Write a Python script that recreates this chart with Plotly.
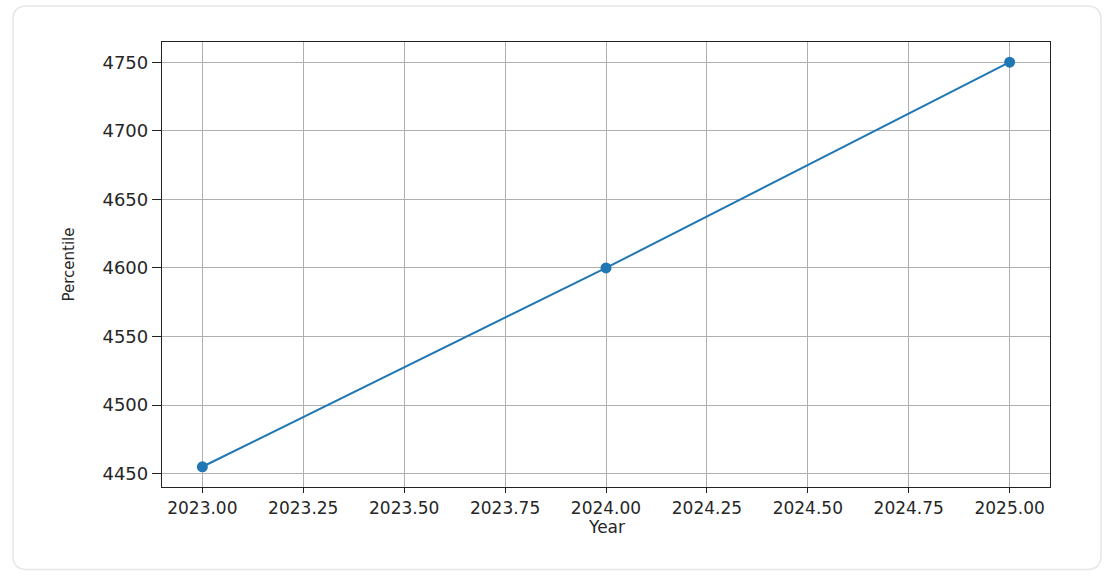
import plotly.graph_objects as go

years = [2023, 2024, 2025]
percentile = [4455, 4600, 4750]

W, H = 1109, 580
L, R, T, B = 162, 59, 42, 92.5
pw, ph = W - L - R, H - T - B


def px_to_paper(x, y):
    return (x - L) / pw, (H - B - y) / ph


def rounded_rect(x0, y0, x1, y1, r):
    def P(x, y):
        a, b = px_to_paper(x, y)
        return f"{a:.5f},{b:.5f}"
    d = f"M {P(x0 + r, y0)} L {P(x1 - r, y0)} Q {P(x1, y0)} {P(x1, y0 + r)} "
    d += f"L {P(x1, y1 - r)} Q {P(x1, y1)} {P(x1 - r, y1)} "
    d += f"L {P(x0 + r, y1)} Q {P(x0, y1)} {P(x0, y1 - r)} "
    d += f"L {P(x0, y0 + r)} Q {P(x0, y0)} {P(x0 + r, y0)} Z"
    return d


fig = go.Figure()
fig.add_trace(go.Scatter(
    x=years, y=percentile, mode="lines+markers",
    line=dict(color="#1f77b4", width=2),
    marker=dict(color="#1f77b4", size=11),
    showlegend=False,
))

fig.add_shape(type="path", xref="paper", yref="paper",
              path=rounded_rect(13, 6, 1101, 570, 14),
              line=dict(color="#e6e6e6", width=1.5),
              fillcolor="rgba(0,0,0,0)", layer="below")

fig.add_annotation(text="Year", xref="paper", yref="paper",
                   x=0.5, y=px_to_paper(0, 528)[1], showarrow=False,
                   xanchor="center", yanchor="middle",
                   font=dict(family="DejaVu Sans", size=17, color="#262626"))

fig.update_layout(
    width=W, height=H,
    margin=dict(l=L, r=R, t=T, b=B, pad=0),
    paper_bgcolor="white", plot_bgcolor="white",
    font=dict(family="DejaVu Sans", size=16, color="#262626"),
    xaxis=dict(
        range=[2022.9, 2025.1], dtick=0.25, tick0=2023, tickformat=".2f",
        showgrid=True, gridcolor="#b0b0b0", gridwidth=1.2,
        showline=True, linecolor="#222", linewidth=1.3, mirror=True,
        ticks="outside", ticklen=5, tickcolor="#222", tickwidth=1.3,
        tickfont=dict(size=17), zeroline=False,
    ),
    yaxis=dict(
        range=[4440.25, 4764.75], dtick=50, tick0=4450,
        showgrid=True, gridcolor="#b0b0b0", gridwidth=1.2,
        showline=True, linecolor="#222", linewidth=1.3, mirror=True,
        ticks="outside", ticklen=9, tickcolor="#222", tickwidth=1.3,
        tickfont=dict(size=18), zeroline=False,
        title=dict(text="Percentile", font=dict(size=15), standoff=24),
    ),
)

fig.write_html("out.html", config={"displayModeBar": False},
               post_script="document.body.style.margin='0';document.body.style.overflow='hidden';")
